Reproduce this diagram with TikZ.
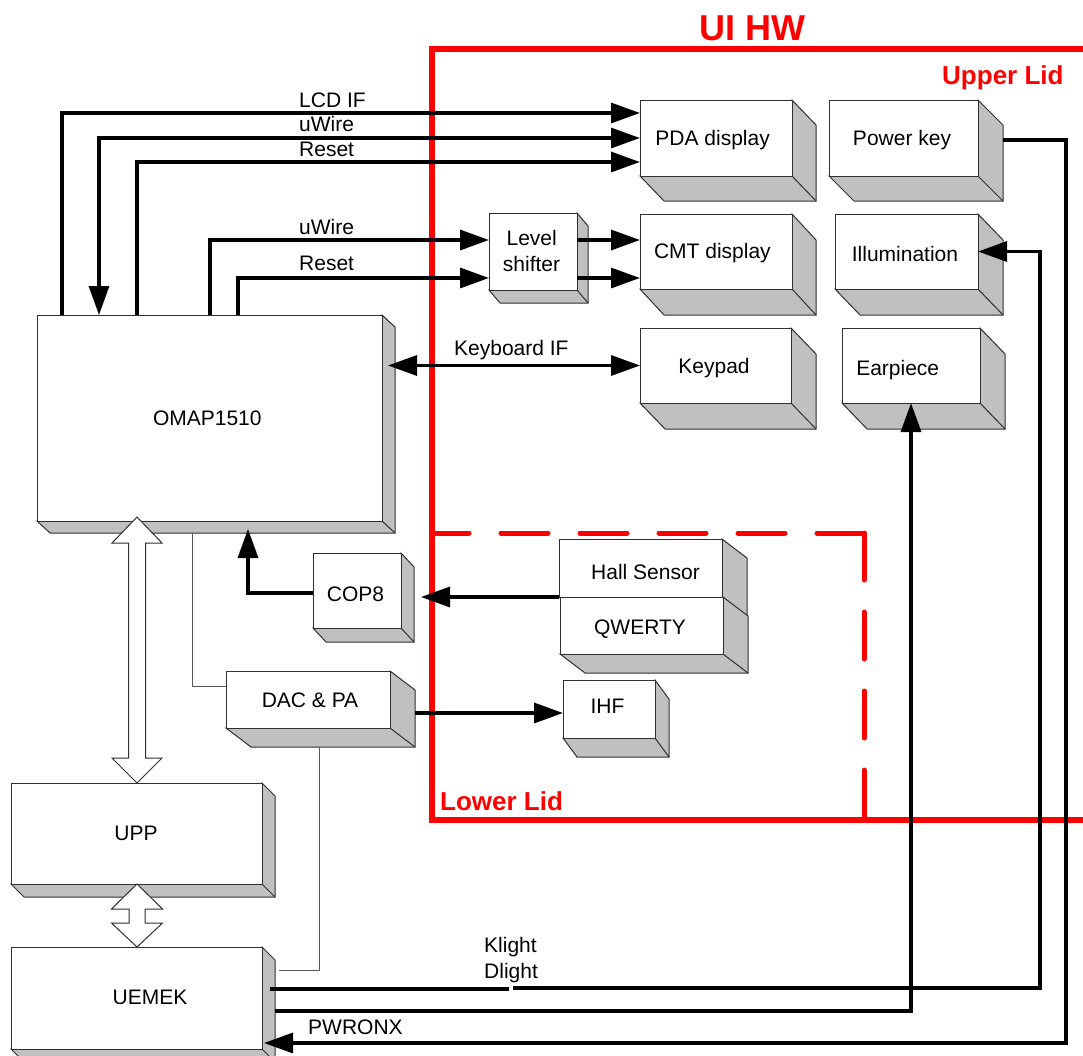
\documentclass[tikz,border=0pt]{standalone}
\usepackage{fontspec}
\setmainfont{Liberation Sans}
\usetikzlibrary{arrows.meta,calc}
\definecolor{sidegray}{HTML}{C0C0C0}
\definecolor{edgegray}{HTML}{303030}
\definecolor{uired}{HTML}{FF0000}
\tikzset{
  front/.style={draw=edgegray,fill=white,line width=1pt,inner sep=0pt,outer sep=0pt},
  lbl/.style={font=\fontsize{21}{25}\selectfont,inner sep=0pt,anchor=base},
  sigl/.style={font=\fontsize{21}{25}\selectfont,inner sep=0pt,anchor=base west},
  redl/.style={text=uired,font=\bfseries\fontsize{26}{30}\selectfont,inner sep=0pt,anchor=base west},
  sig/.style={draw=black,line width=3.3pt},
  thinline/.style={draw=gray!70!black,line width=1pt},
  hollow/.style={draw=edgegray,fill=white,line width=1pt,line join=miter},
  >={Triangle[length=29pt,width=20pt]}
}
% name, x1, y1, x2, y2, dx, dy
\newcommand\tdbox[7]{%
  \filldraw[fill=sidegray,draw=edgegray,line width=1pt] (#4,#3) -- ({#4+#6},{#3+#7}) -- ({#4+#6},{#5+#7}) -- ({#2+#6},{#5+#7}) -- (#2,#5) -- (#4,#5) -- cycle;
  \draw[edgegray,line width=1pt] (#4,#5) -- ({#4+#6},{#5+#7});
  \node[front,minimum width={#4-#2},minimum height={#5-#3}] (#1) at ({(#2+#4)/2},{(#3+#5)/2}) {};
}
\begin{document}
\begin{tikzpicture}[x=1pt,y=-1pt]
\useasboundingbox (0,0) rectangle (1083,1055);
\fill[white] (0,0) rectangle (1083,1055);

% red frames
\draw[uired,line width=6.5pt] (1095,49) -- (432,49) -- (432,820) -- (1095,820);
\draw[uired,line width=5pt,line cap=round,dash pattern=on 47pt off 32pt] (864,533) -- (432,533);
\draw[uired,line width=5pt,line cap=round,dash pattern=on 47pt off 32pt] (864,533) -- (864,820);
\node[redl,font=\bfseries\fontsize{36}{40}\selectfont] (uihw) at (699,40) {UI HW};
\node[redl] (upperlid) at (942,84) {Upper Lid};
\node[redl] (lowerlid) at (440,810) {Lower Lid};

% boxes
\tdbox{omap}{37}{315}{382}{521}{13}{12}
\tdbox{pda}{640}{100}{792}{176}{24}{25}
\tdbox{pkey}{829}{100}{978}{176}{25}{25}
\tdbox{ls}{489}{213}{577}{290}{11}{13}
\tdbox{cmt}{640}{214}{792}{289}{24}{26}
\tdbox{illum}{835}{214}{978}{289}{25}{26}
\tdbox{keypad}{640}{328}{791}{403}{25}{26}
\tdbox{earp}{842}{328}{980}{403}{25}{26}
\tdbox{cop8}{313}{553}{401}{628}{13}{14}
\tdbox{hall}{559}{539}{722}{597}{25}{19}
\tdbox{qwerty}{560}{597}{723}{654}{25}{19}
\tdbox{ihf}{563}{680}{655}{738}{14}{19}
\tdbox{dac}{226}{671}{390}{728}{25}{19}
\tdbox{upp}{11}{783}{262}{884}{13}{13}
\tdbox{uemek}{11}{947}{262}{1049}{13}{13}

% box texts
\node[lbl] (pdat) at (712.6,145) {PDA display};
\node[lbl] (pkeyt) at (902,145) {Power key};
\node[lbl] (cmtt) at (712.4,258) {CMT display};
\node[lbl] (illumt) at (905,261.7) {Illumination};
\node[lbl] (lst1) at (531.7,245.7) {Level};
\node[lbl] (lst2) at (531.5,271.7) {shifter};
\node[lbl] (keypadt) at (714,373) {Keypad};
\node[lbl] (earpt) at (897.7,375) {Earpiece};
\node[lbl] (omapt) at (207.3,425) {OMAP1510};
\node[lbl] (hallt) at (645.5,579) {Hall Sensor};
\node[lbl] (qwertyt) at (640,634) {QWERTY};
\node[lbl] (ihft) at (607.5,713) {IHF};
\node[lbl] (cop8t) at (355.5,601.7) {COP8};
\node[lbl] (dact) at (310,707) {DAC \& PA};
\node[lbl] (uppt) at (136,840) {UPP};
\node[lbl] (uemekt) at (150,1004) {UEMEK};

% signal labels
\node[sigl] (lcdif) at (299,107) {LCD IF};
\node[sigl] (uwirea) at (299,131.5) {uWire};
\node[sigl] (reseta) at (299,156.5) {Reset};
\node[sigl] (uwireb) at (299,234) {uWire};
\node[sigl] (resetb) at (299,270.5) {Reset};
\node[sigl] (kbif) at (454,355) {Keyboard IF};
\node[sigl] (klight) at (484,952.5) {Klight};
\node[sigl] (dlight) at (484,978) {Dlight};
\node[sigl] (pwronx) at (308,1034) {PWRONX};

% thin lines
\draw[thinline] ([xshift=-17.5,yshift=-12]omap.south) |- ([yshift=13.5]dac.west);
\draw[thinline] ([xshift=11,yshift=-19]dac.south) |- ([xshift=17,yshift=28]uemek.east);

% hollow bus arrows
\draw[hollow] (137,517) -- (162,543) -- (145.5,543) -- (145.5,758) -- (162,758) -- (137,783) -- (112,758) -- (128.5,758) -- (128.5,543) -- (112,543) -- cycle;
\draw[hollow] (137,884) -- (162.5,909) -- (145,909) -- (145,923) -- (162.5,923) -- (137,947) -- (111.5,923) -- (129,923) -- (129,909) -- (111.5,909) -- cycle;

% signal connectors
\draw[sig,->] ([xshift=25]omap.north west) |- ([yshift=25]pda.west);
\draw[sig,<->] ([xshift=62]omap.north west) |- (pda.west);
\draw[sig,->] ([xshift=100]omap.north west) |- ([yshift=-24]pda.west);
\draw[sig,->] ([xshift=173]omap.north west) |- ([yshift=11.5]ls.west);
\draw[sig,->] ([xshift=201]omap.north west) |- ([yshift=-26.5]ls.west);
\draw[sig,->] ([yshift=11.5]ls.east) -- ([yshift=11.5]cmt.west);
\draw[sig,->] ([yshift=-26.5]ls.east) -- ([yshift=-26.5]cmt.west);
\draw[sig,<->] ($(omap.east |- keypad.west)+(6,0)$) -- (keypad.west);
\draw[sig,->] ([yshift=-2.5]cop8.west) -| ([xshift=38.5,yshift=-8]omap.south);
\draw[sig,->] (hall.south west) -- ($(cop8.east |- hall.south west)+(20,0)$);
\draw[sig,->] ([xshift=25,yshift=-13.5]dac.east) -- ([yshift=-4]ihf.west);
\draw[sig,->] ([xshift=13,yshift=-13]uemek.east) -| (earp.south);
\draw[sig] ([xshift=8,yshift=9]uemek.east) -- ++(239,0);
\draw[sig,->] ([xshift=251,yshift=10]uemek.east) -| ([xshift=62]illum.east) -- (illum.east);
\draw[sig,->] ([xshift=25,yshift=-2]pkey.east) -- ++(63,0) |- ([xshift=2,yshift=-45]uemek.east);
\end{tikzpicture}
\end{document}
